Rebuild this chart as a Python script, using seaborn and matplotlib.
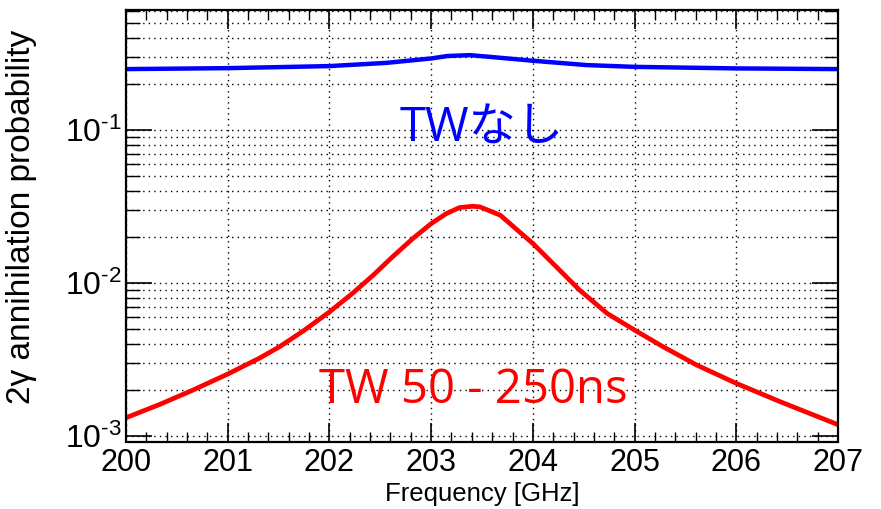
import numpy as np
import pandas as pd
import matplotlib
matplotlib.use("Agg")
import matplotlib.pyplot as plt
import matplotlib.ticker as mticker
import seaborn as sns

# ---- data ----
freq_tw = [200.0, 200.33, 200.66, 201.0, 201.31, 201.51, 201.74, 202.0, 202.23,
           202.43, 202.62, 202.82, 203.0, 203.15, 203.28, 203.41, 203.48, 203.68,
           203.87, 204.0, 204.23, 204.46, 204.73, 205.0, 205.28, 205.61, 206.0,
           206.43, 207.0]
prob_tw = [1.31e-3, 1.60e-3, 1.99e-3, 2.53e-3, 3.21e-3, 3.82e-3, 4.83e-3, 6.45e-3,
           8.57e-3, 1.122e-2, 1.479e-2, 1.95e-2, 2.44e-2, 2.84e-2, 3.11e-2, 3.17e-2,
           3.14e-2, 2.77e-2, 2.15e-2, 1.81e-2, 1.274e-2, 8.96e-3, 6.31e-3, 4.91e-3,
           3.82e-3, 2.90e-3, 2.20e-3, 1.67e-3, 1.18e-3]

freq_notw = [200.0, 201.0, 202.0, 202.56, 203.0, 203.16, 203.38, 203.58, 204.0,
             204.53, 205.0, 206.0, 207.0]
prob_notw = [0.2504, 0.254, 0.262, 0.275, 0.294, 0.305, 0.309, 0.301, 0.284,
             0.266, 0.259, 0.253, 0.2504]

x_ticks = [200, 201, 202, 203, 204, 205, 206, 207]
label_notw = "TWなし"
label_tw = "TW 50 - 250ns"
xlabel = "Frequency [GHz]"
ylabel = "2γ annihilation probability"

sns.set_theme(style="white")
plt.rcParams["font.family"] = ["Liberation Sans", "DejaVu Sans"]
plt.rcParams["mathtext.fontset"] = "custom"
plt.rcParams["mathtext.rm"] = "Liberation Sans"
plt.rcParams["mathtext.it"] = "Liberation Sans:italic"
plt.rcParams["text.color"] = "black"
plt.rcParams["axes.labelcolor"] = "black"
plt.rcParams["xtick.color"] = "black"
plt.rcParams["ytick.color"] = "black"

fig = plt.figure(figsize=(8.81, 5.09), dpi=100)
ax = fig.add_axes([126 / 881, 1 - 441.5 / 509, (838 - 126) / 881, (441.5 - 10) / 509])

df_notw = pd.DataFrame({"f": freq_notw, "p": prob_notw})
df_tw = pd.DataFrame({"f": freq_tw, "p": prob_tw})
sns.lineplot(data=df_notw, x="f", y="p", ax=ax, color="#0000ff", lw=3.2, sort=False)
sns.lineplot(data=df_tw, x="f", y="p", ax=ax, color="#ff0000", lw=3.4, sort=False)

ax.set_yscale("log")
ax.set_xlim(200, 207)
ax.set_ylim(9.16e-4, 0.61)

ax.set_xticks(x_ticks)
ax.set_xticklabels([str(t) for t in x_ticks])
ax.xaxis.set_minor_locator(mticker.MultipleLocator(0.2))
ax.yaxis.set_major_locator(mticker.FixedLocator([1e-3, 1e-2, 1e-1]))
ax.yaxis.set_major_formatter(mticker.FuncFormatter(
    lambda v, pos: r"$\mathregular{10^{\text{-}%d}}$" % round(-np.log10(v))))
ax.yaxis.set_minor_locator(mticker.LogLocator(base=10, subs=np.arange(2, 10), numticks=20))
ax.yaxis.set_minor_formatter(mticker.NullFormatter())

ax.tick_params(axis="both", which="both", direction="in", top=True, right=True,
               bottom=True, left=True, color="black", labelcolor="black")
ax.tick_params(axis="x", which="major", length=14, width=1.2, labelsize=22, pad=5)
ax.tick_params(axis="x", which="minor", length=7, width=1.0)
ax.tick_params(axis="y", which="major", length=19, width=1.2, labelsize=23, pad=3)
ax.tick_params(axis="y", which="minor", length=10, width=1.0)

ax.grid(True, which="major", axis="both", linestyle=(0, (1, 3)), color="black", lw=1.0)
ax.grid(True, which="minor", axis="y", linestyle=(0, (1, 3)), color="black", lw=1.0)

for s in ax.spines.values():
    s.set_visible(True)
    s.set_color("black")
    s.set_linewidth(1.6)

ax.set_xlabel(xlabel, fontsize=18.5, labelpad=2, color="black")
ax.xaxis.set_label_coords(0.5, -0.095)
ax.set_ylabel(ylabel, fontsize=24, labelpad=6, color="black")
ax.yaxis.set_label_coords(-0.125, 0.52)

ax.text(203.5, 0.102, label_notw, color="#0000ff", fontsize=34, ha="center", va="center",
        family=["Open Sans", "Noto Sans CJK JP", "DejaVu Sans"])
ax.text(203.41, 1.98e-3, label_tw, color="#ff0000", fontsize=34, ha="center", va="center",
        family=["Open Sans", "Noto Sans CJK JP", "DejaVu Sans"])

fig.savefig("out.png", dpi=100)
